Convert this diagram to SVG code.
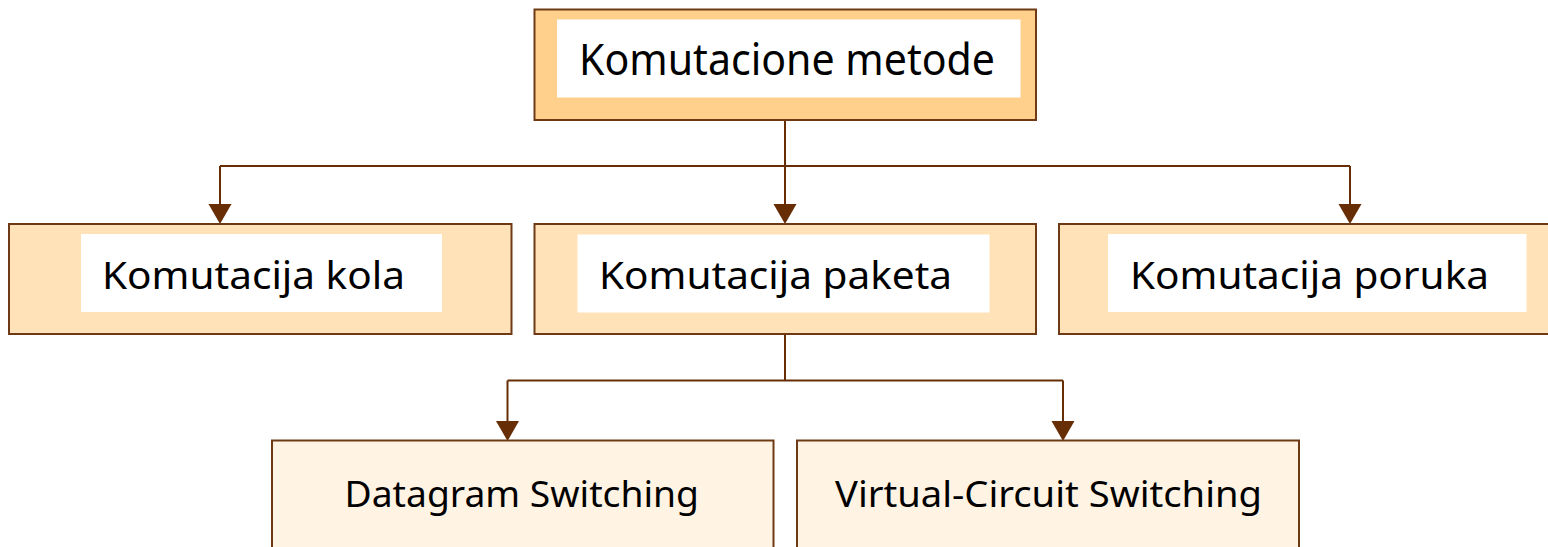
<svg xmlns="http://www.w3.org/2000/svg" width="1548" height="547" viewBox="0 0 1548 547">
<style>
.box{stroke:#6E3A16;stroke-width:2}
.top{fill:#FFD08C}
.mid{fill:#FFE2B7}
.low{fill:#FFF3E3}
.inner{fill:#FFFFFF}
.lbl{font-family:"Noto Sans","Open Sans","Liberation Sans",sans-serif;fill:#000;lengthAdjust:spacingAndGlyphs}
.big{font-size:43px}
.med{font-size:39px}
.sm{font-size:36px}
.conn{fill:none;stroke:#672E05;stroke-width:2}
.head{fill:#672E05}
</style>
<rect width="1548" height="547" fill="#FFFFFF"/>
<g id="connectors">
<path class="conn" d="M785,120 V204 M220,166 H1350 M220,166 V204 M1350,166 V204"/>
<polygon class="head" points="208.5,204 231.5,204 220,224"/>
<polygon class="head" points="773.5,204 796.5,204 785,224"/>
<polygon class="head" points="1338.5,204 1361.5,204 1350,224"/>
<path class="conn" d="M785,335 V380.5 M507.5,380.5 H1063 M507.5,380.5 V421 M1063,380.5 V421"/>
<polygon class="head" points="496,421 519,421 507.5,441"/>
<polygon class="head" points="1051.5,421 1074.5,421 1063,441"/>
</g>
<g id="node-komutacione-metode">
<rect class="box top" x="534.5" y="9.5" width="501.5" height="110.5"/>
<rect class="inner" x="557" y="19.5" width="463.5" height="78"/>
<text class="lbl big" x="579" y="74.5" textLength="416" lengthAdjust="spacingAndGlyphs">Komutacione metode</text>
</g>
<g id="node-komutacija-kola">
<rect class="box mid" x="9" y="224" width="502.5" height="110"/>
<rect class="inner" x="81" y="234" width="361" height="78"/>
<text class="lbl med" x="102" y="289" textLength="303" lengthAdjust="spacingAndGlyphs">Komutacija kola</text>
</g>
<g id="node-komutacija-paketa">
<rect class="box mid" x="534.5" y="224" width="501.5" height="110"/>
<rect class="inner" x="577.5" y="234.5" width="412" height="78"/>
<text class="lbl med" x="599" y="289" textLength="353" lengthAdjust="spacingAndGlyphs">Komutacija paketa</text>
</g>
<g id="node-komutacija-poruka">
<rect class="box mid" x="1059" y="224" width="500" height="110"/>
<rect class="inner" x="1108" y="234" width="418.5" height="78"/>
<text class="lbl med" x="1130" y="289" textLength="359" lengthAdjust="spacingAndGlyphs">Komutacija poruka</text>
</g>
<g id="node-datagram-switching">
<rect class="box low" x="272" y="440.5" width="501.5" height="115"/>
<text class="lbl sm" x="344.5" y="507" textLength="354.5" lengthAdjust="spacingAndGlyphs">Datagram Switching</text>
</g>
<g id="node-virtual-circuit-switching">
<rect class="box low" x="797" y="440.5" width="502" height="115"/>
<text class="lbl sm" x="835" y="507" textLength="427" lengthAdjust="spacingAndGlyphs">Virtual-Circuit Switching</text>
</g>
</svg>
